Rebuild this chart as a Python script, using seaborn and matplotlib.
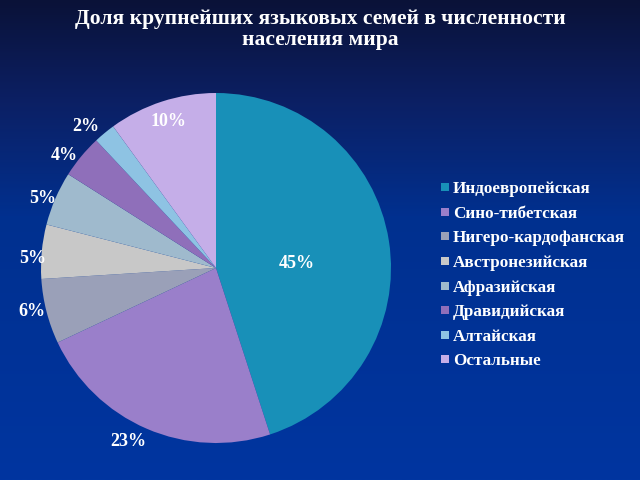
import numpy as np
import matplotlib
matplotlib.use("Agg")
import matplotlib.pyplot as plt
import seaborn as sns
from matplotlib.colors import LinearSegmentedColormap

families = ['Индоевропейская', 'Сино-тибетская', 'Нигеро-кардофанская',
            'Австронезийская', 'Афразийская', 'Дравидийская', 'Алтайская',
            'Остальные']
shares = [45, 23, 6, 5, 5, 4, 2, 10]
colors = ['#1890b8', '#9a7fca', '#9aa0b8', '#c8c8c8', '#9fbacd', '#8f6fba',
          '#8ec3e3', '#c5aee8']

title = 'Доля крупнейших языковых семей в численности\nнаселения мира'

sns.set_style('white')
plt.rcParams['font.family'] = ['Liberation Serif', 'DejaVu Serif']
plt.rcParams['font.weight'] = 'bold'

fig = plt.figure(figsize=(6.4, 4.8), dpi=100)

# background gradient
bg = fig.add_axes([0, 0, 1, 1])
grad = np.linspace(0, 1, 256).reshape(-1, 1)
cmap = LinearSegmentedColormap.from_list(
    'bg', [(0, '#0a1238'), (0.2, '#0c1f62'), (0.45, '#01308f'), (1, '#0035a0')])
bg.imshow(grad, aspect='auto', cmap=cmap, extent=[0, 1, 0, 1], origin='upper')
bg.set_xlim(0, 1)
bg.set_ylim(0, 1)
bg.axis('off')

fig.text(0.5, 0.982, title, ha='center', va='top', color='white',
         fontsize=15.5, fontweight='bold', linespacing=1.1)

ax = fig.add_axes([41 / 640, 37 / 480, 350 / 640, 350 / 480])
wedges, _ = ax.pie(shares, colors=sns.color_palette(colors), startangle=90,
                   counterclock=False, radius=1,
                   wedgeprops=dict(linewidth=0))
ax.set_xlim(-1, 1)
ax.set_ylim(-1, 1)
ax.set_aspect('equal')
ax.axis('off')

# label distance and small angle shift per slice
dist = [0.46, 1.11, 1.08, 1.05, 1.07, 1.08, 1.10, 0.88]
shift = [-6, -3.5, -1, 2.3, 1.5, 3, 3, 0]
for w, v, r, s in zip(wedges, shares, dist, shift):
    ang = np.deg2rad((w.theta1 + w.theta2) / 2 + s)
    ax.text(r * np.cos(ang), r * np.sin(ang), f'{v}%', ha='center',
            va='center', color='white', fontsize=13, fontweight='bold')

handles = [plt.Line2D([], [], marker='s', linestyle='', markersize=6,
                      markerfacecolor=c, markeredgewidth=0) for c in colors]
leg = fig.legend(handles, families, loc='upper left',
                 bbox_to_anchor=(424 / 640, 1 - 166 / 480), frameon=False,
                 handletextpad=0.1, labelspacing=0.5, handlelength=0.7,
                 prop=dict(size=12.3, weight='bold'))
for t in leg.get_texts():
    t.set_color('white')

fig.savefig('out.png', dpi=100)
